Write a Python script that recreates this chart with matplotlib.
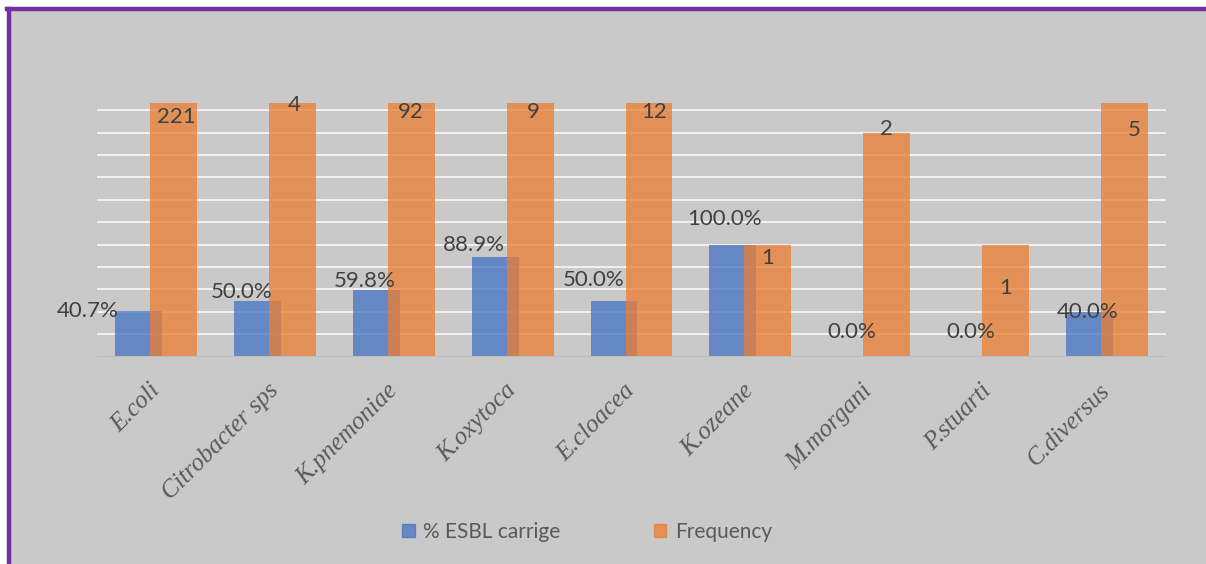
import numpy as np
import matplotlib
matplotlib.use("Agg")
from matplotlib import pyplot as plt
from matplotlib.patches import Rectangle
from matplotlib.lines import Line2D

categories = ["E.coli", "Citrobacter sps", "K.pnemoniae", "K.oxytoca", "E.cloacea",
              "K.ozeane", "M.morgani", "P.stuarti", "C.diversus"]
esbl = [0.407, 0.500, 0.598, 0.889, 0.500, 1.000, 0.000, 0.000, 0.400]
freq = [221, 4, 92, 9, 12, 1, 2, 1, 5]

# label offsets in pixels (dx, dy), as placed in the original
esbl_off = [(-51, 0), (-16, 9), (-12, 9), (-21, 12), (-20, 21), (-8, 26), (0, 25), (0, 25), (-2, 0)]
freq_off = [(2, -14), (2, -2), (-1, -9), (3, -9), (5, -9), (0, -13), (0, 4), (0, -43), (10, -27)]

W, H = 1206, 564
fig = plt.figure(figsize=(W / 100, H / 100), dpi=100, facecolor="white")

# grey chart area with purple border on left and top
fig.patches.append(Rectangle((8 / W, 0), 1 - 8 / W, 1 - 8 / H, transform=fig.transFigure,
                             facecolor="#C9C9C9", edgecolor="none", zorder=-3))
fig.lines.append(Line2D([9 / W, 9 / W], [0, 1 - 8.5 / H], transform=fig.transFigure,
                        color="#7030A0", lw=3.2, zorder=-2))
fig.lines.append(Line2D([7 / W, 1], [1 - 8.5 / H, 1 - 8.5 / H], transform=fig.transFigure,
                        color="#7030A0", lw=3.2, zorder=-2))

ax = fig.add_axes([97 / W, (H - 356.7) / H, (1166 - 97) / W, (356.7 - 103) / H])
ax.set_facecolor("none")
ymax = 2.265
ax.set_ylim(0, ymax)
ax.set_xlim(-0.5, len(categories) - 0.5)

x = np.arange(len(categories))
bw = 0.395
off = 0.147
for y in np.arange(0.2, 2.21, 0.2):
    ax.axhline(y, color="#F2F2F2", lw=1.4, zorder=1)
ax.axhline(0, color="#BDBDBD", lw=2.2, zorder=4)

ax.bar(x - off, esbl, bw, color="#4472C4", alpha=0.75, zorder=2)
ax.bar(x + off, freq, bw, color="#ED7D31", alpha=0.75, zorder=3)

lab_font = dict(family="Lato", fontsize=16, color="#404040")
for i in range(len(categories)):
    ax.annotate(f"{esbl[i] * 100:.1f}%", xy=(x[i] - off, esbl[i]), xytext=esbl_off[i],
                textcoords="offset pixels", ha="center", va="center", zorder=6,
                annotation_clip=False, **lab_font)
    ax.annotate(str(freq[i]), xy=(x[i] + off, min(freq[i], ymax)), xytext=freq_off[i],
                textcoords="offset pixels", ha="center", va="center", zorder=6,
                annotation_clip=False, **lab_font)

for s in ax.spines.values():
    s.set_visible(False)
ax.set_yticks([])
ax.set_xticks(x)
ax.set_xticklabels(categories, rotation=45, ha="right", va="center", rotation_mode="anchor",
                   family="Liberation Serif", style="italic", fontsize=18, color="#595959")
ax.tick_params(axis="x", length=0, pad=22)

handles = [Rectangle((0, 0), 1, 1, color="#4472C4", alpha=0.75),
           Rectangle((0, 0), 1, 1, color="#ED7D31", alpha=0.75)]
fig.legend(handles, ["% ESBL carrige", "Frequency"], loc="center",
           bbox_to_anchor=(587 / W, 1 - 532 / H), ncol=2, frameon=False,
           handlelength=0.6, handleheight=0.6, handletextpad=0.4, columnspacing=4.5,
           prop=dict(family="Lato", size=15), labelcolor="#595959")

fig.savefig("out.png", dpi=100, facecolor="white")
